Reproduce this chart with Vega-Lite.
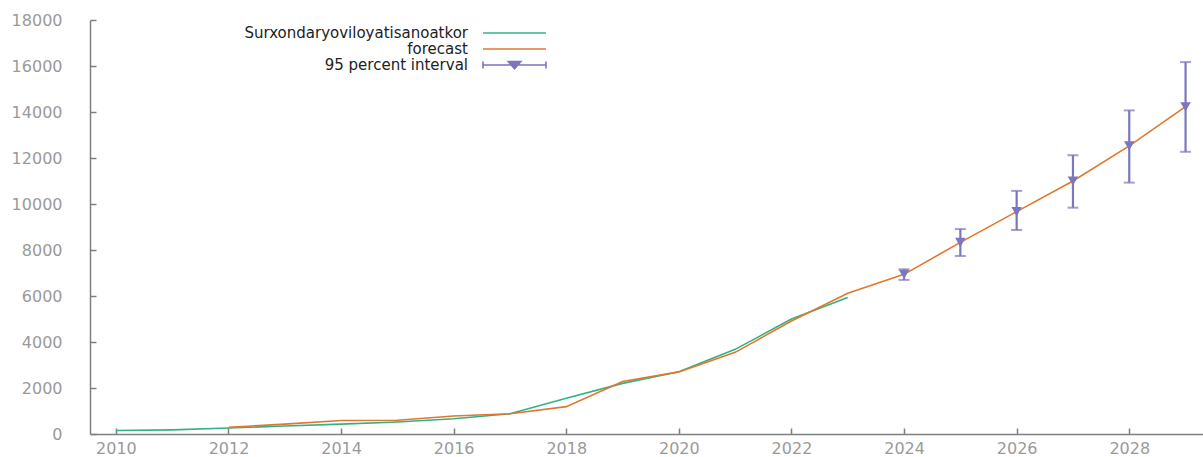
{
  "$schema": "https://vega.github.io/schema/vega-lite/v6.json",
  "width": 1113,
  "height": 414,
  "autosize": {"type": "none"},
  "padding": {"left": 90, "top": 20, "right": 0, "bottom": 23},
  "background": "white",
  "config": {
    "view": {"stroke": null},
    "font": "DejaVu Sans",
    "axis": {
      "labelFont": "DejaVu Sans",
      "labelFontSize": 16,
      "labelColor": "#9a9a9a",
      "domainColor": "#7f7f7f",
      "tickColor": "#7f7f7f",
      "domainWidth": 1.5,
      "tickWidth": 1.5,
      "tickSize": -6,
      "grid": false,
      "title": null
    }
  },
  "data": {
    "values": [
      {"year": 2010, "actual": 150},
      {"year": 2011, "actual": 180},
      {"year": 2012, "actual": 260, "forecast": 290},
      {"year": 2013, "actual": 350, "forecast": 430},
      {"year": 2014, "actual": 430, "forecast": 590},
      {"year": 2015, "actual": 520, "forecast": 600},
      {"year": 2016, "actual": 660, "forecast": 780},
      {"year": 2017, "actual": 880, "forecast": 880},
      {"year": 2018, "actual": 1550, "forecast": 1190},
      {"year": 2019, "actual": 2200, "forecast": 2280},
      {"year": 2020, "actual": 2710, "forecast": 2700},
      {"year": 2021, "actual": 3680, "forecast": 3550},
      {"year": 2022, "actual": 5000, "forecast": 4910},
      {"year": 2023, "actual": 5930, "forecast": 6120},
      {"year": 2024, "forecast": 6940, "lo": 6700, "hi": 7160},
      {"year": 2025, "forecast": 8330, "lo": 7740, "hi": 8910},
      {"year": 2026, "forecast": 9670, "lo": 8870, "hi": 10570},
      {"year": 2027, "forecast": 11000, "lo": 9840, "hi": 12120},
      {"year": 2028, "forecast": 12530, "lo": 10930, "hi": 14070},
      {"year": 2029, "forecast": 14230, "lo": 12270, "hi": 16170}
    ]
  },
  "encoding": {
    "x": {
      "field": "year",
      "type": "quantitative",
      "scale": {"domain": [2009.54, 2029.31], "nice": false, "zero": false},
      "axis": {"values": [2010, 2012, 2014, 2016, 2018, 2020, 2022, 2024, 2026, 2028], "format": "d", "labelPadding": 12, "labelFlush": false}
    }
  },
  "layer": [
    {
      "mark": {"type": "line", "strokeWidth": 1.6},
      "encoding": {
        "y": {
          "field": "actual",
          "type": "quantitative",
          "scale": {"domain": [0, 18000], "nice": false},
          "axis": {"values": [0, 2000, 4000, 6000, 8000, 10000, 12000, 14000, 16000, 18000], "format": "d", "labelPadding": 34}
        },
        "color": {
          "datum": "Surxondaryoviloyatisanoatkor",
          "type": "nominal",
          "scale": {
            "domain": ["Surxondaryoviloyatisanoatkor", "forecast", "95 percent interval"],
            "range": ["#34b086", "#e0772f", "#7a76c0"]
          },
          "legend": {
            "title": null,
            "orient": "none",
            "legendX": 416.5,
            "legendY": 5,
            "padding": 0,
            "rowPadding": 0,
            "symbolSize": 196,
            "symbolStrokeWidth": 1.6,
            "labelAlign": "right",
            "labelOffset": -54.5,
            "labelFont": "DejaVu Sans",
            "labelFontSize": 15,
            "labelColor": "#222222",
            "labelLimit": 500,
            "encode": {
              "symbols": {
                "update": {
                  "shape": {"signal": "datum.value === '95 percent interval' ? 'M-4.5,0L4.5,0M-4.5,-0.5L-4.5,0.5M4.5,-0.5L4.5,0.5M-0.9,-0.5L0.9,-0.5L0,0.55Z' : 'M-4.5,0L4.5,0'"},
                  "fill": {"signal": "datum.value === '95 percent interval' ? '#7a76c0' : 'transparent'"},
                  "opacity": {"value": 1}
                }
              }
            }
          }
        }
      }
    },
    {
      "mark": {"type": "line", "strokeWidth": 1.6},
      "encoding": {
        "y": {"field": "forecast", "type": "quantitative"},
        "color": {"datum": "forecast", "type": "nominal"}
      }
    },
    {
      "mark": {"type": "rule", "strokeWidth": 2.2},
      "encoding": {
        "y": {"field": "lo", "type": "quantitative"},
        "y2": {"field": "hi"},
        "color": {"datum": "95 percent interval", "type": "nominal"}
      }
    },
    {
      "mark": {"type": "tick", "orient": "horizontal", "size": 11, "thickness": 2},
      "encoding": {
        "y": {"field": "lo", "type": "quantitative"},
        "color": {"datum": "95 percent interval", "type": "nominal"}
      }
    },
    {
      "mark": {"type": "tick", "orient": "horizontal", "size": 11, "thickness": 2},
      "encoding": {
        "y": {"field": "hi", "type": "quantitative"},
        "color": {"datum": "95 percent interval", "type": "nominal"}
      }
    },
    {
      "mark": {"type": "point", "shape": "triangle-down", "filled": true, "size": 110, "opacity": 1},
      "transform": [{"filter": "datum.lo != null"}],
      "encoding": {
        "y": {"field": "forecast", "type": "quantitative"},
        "color": {"datum": "95 percent interval", "type": "nominal"}
      }
    }
  ]
}
